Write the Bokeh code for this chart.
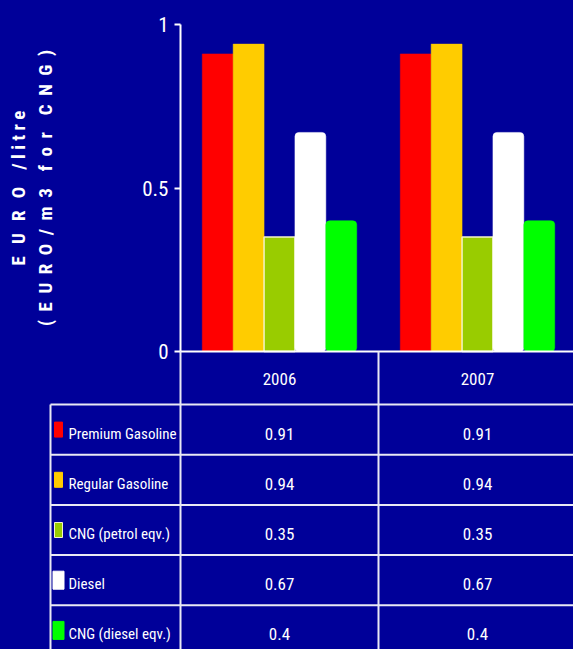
from bokeh.plotting import figure
from bokeh.models import (ColumnDataSource, Range1d, FixedTicker, LinearAxis,
                          GlobalInlineStyleSheet)
from bokeh.transform import dodge
from bokeh.core.properties import value
from bokeh.embed import file_html
from bokeh.resources import INLINE

# ---------------- data ----------------
years = ["2006", "2007"]
fuels = ["Premium Gasoline", "Regular Gasoline", "CNG (petrol eqv.)", "Diesel", "CNG (diesel eqv.)"]
premium_gasoline = [0.91, 0.91]
regular_gasoline = [0.94, 0.94]
cng_petrol_eqv = [0.35, 0.35]
diesel = [0.67, 0.67]
cng_diesel_eqv = [0.4, 0.4]
y_ticks = [0, 0.5, 1]
y_tick_labels = ["0", "0.5", "1"]
sp = "\u2002"
thin = "\u2009"
quarter = "\u2005"
y_label_line1 = (sp + thin).join("EURO") + sp + sp + "/" + quarter + quarter.join("litre")
y_label_line2 = sp.join("(EURO/m") + sp + "3" + sp + sp + sp.join("for") + sp + sp + sp.join("CNG)")

series = [premium_gasoline, regular_gasoline, cng_petrol_eqv, diesel, cng_diesel_eqv]

# ---------------- style / geometry ----------------
BG = "#000099"
colors = ["#FF0000", "#FFCC00", "#99CC00", "#FFFFFF", "#00FF00"]
outline = [None, None, "#F4F4C8", None, None]
radius = [0, 0, 0, 4, 4]
FONT = "Roboto Condensed, Roboto"
LINE_C = "#E8E8F4"

W, H = 573, 649
AXIS_X = 180          # pixel position of the value axis
COL_PX = 198          # pixel width of one year column
ZERO_PX = 351         # pixel position of value 0
PX_PER_Y = 327        # pixels per unit value
TABLE_TOP = 404       # pixel position of the table's top rule
ROW_PX = 50.2         # table row height
LEFT_RULE = 50        # pixel position of the table's left rule
bar_w = 0.156

x_range = Range1d(-AXIS_X / COL_PX, (W - AXIS_X) / COL_PX)
y_range = Range1d(-(H - ZERO_PX) / PX_PER_Y, ZERO_PX / PX_PER_Y)

p = figure(width=W, height=H, x_range=x_range, y_range=y_range,
           x_axis_location=None, y_axis_location=None,
           output_backend="svg", toolbar_location=None, min_border=0,
           background_fill_color=BG, border_fill_color=BG, outline_line_color=None)
p.grid.visible = False
p.extra_y_ranges = {"table": Range1d(-(H - TABLE_TOP) / ROW_PX, TABLE_TOP / ROW_PX)}

ya = LinearAxis(fixed_location=0, bounds=(0, 1), ticker=FixedTicker(ticks=y_ticks))
ya.major_label_overrides = {t: l for t, l in zip(y_ticks, y_tick_labels)}
ya.axis_line_color = "white"
ya.axis_line_width = 2
ya.major_tick_line_color = "white"
ya.major_tick_line_width = 2
ya.major_tick_out = 6
ya.major_tick_in = 0
ya.minor_tick_line_color = None
ya.major_label_text_color = "white"
ya.major_label_text_font = FONT
ya.major_label_text_font_size = "21px"
ya.major_label_standoff = 6
ya.axis_label = y_label_line1 + "\n" + y_label_line2
ya.axis_label_text_color = "white"
ya.axis_label_text_font = FONT
ya.axis_label_text_font_style = "bold"
ya.axis_label_text_font_size = "19px"
ya.axis_label_standoff = 82
p.add_layout(ya, "left")

xc = [j + 0.5 for j in range(len(years))]
src = ColumnDataSource(dict(year=years, xc=xc, **{f"s{i}": s for i, s in enumerate(series)}))
for i, c in enumerate(colors):
    off = (i - (len(colors) - 1) / 2) * bar_w
    p.vbar(x=dodge("xc", off), top=f"s{i}", bottom=0, width=bar_w, source=src,
           fill_color=c, line_color=outline[i] or c,
           line_width=1.5 if outline[i] else 0.5, border_radius=radius[i])

x_end = (W - AXIS_X) / COL_PX
row_top_y = -(TABLE_TOP - ZERO_PX) / PX_PER_Y
# zero line and year-row separators
p.segment(x0=[0], y0=[0], x1=[x_end], y1=[0], line_color="white", line_width=2)
p.segment(x0=[0, 1], y0=[0, 0], x1=[0, 1], y1=[row_top_y, row_top_y],
          line_color=LINE_C, line_width=2)
p.text(x="xc", y=0, text="year", source=src, y_offset=27,
       text_align="center", text_baseline="middle", text_color="white",
       text_font=value(FONT), text_font_size="17px")

# ---------------- table ----------------
x_left = -(AXIS_X - LEFT_RULE) / COL_PX
n = len(fuels)
p.segment(x0=[x_left] * (n + 1), y0=[-i for i in range(n + 1)],
          x1=[x_end] * (n + 1), y1=[-i for i in range(n + 1)],
          line_color=LINE_C, line_width=2, y_range_name="table")
vx = [x_left] + list(range(len(years)))
p.segment(x0=vx, y0=[0] * len(vx), x1=vx, y1=[-n] * len(vx),
          line_color=LINE_C, line_width=2, y_range_name="table")

row_y = [-i - 0.5 for i in range(n)]
lsrc = ColumnDataSource(dict(y=row_y, fuel=fuels, color=colors,
                             w=[8, 8, 8, 11, 11], h=[15, 15, 15, 18, 18],
                             lc=[o or c for o, c in zip(outline, colors)]))
p.rect(x=x_left + 8 / COL_PX, y="y", width="w", height="h", width_units="screen",
       height_units="screen", fill_color="color", line_color="lc", line_width=1,
       source=lsrc, y_range_name="table")
p.text(x=x_left + 18 / COL_PX, y="y", text="fuel", source=lsrc, y_offset=4,
       text_align="left", text_baseline="middle", text_color="white",
       text_font=value(FONT), text_font_size="15px", y_range_name="table")

vx_list, vy_list, vt_list = [], [], []
for i, s in enumerate(series):
    for j, v in enumerate(s):
        vx_list.append(xc[j])
        vy_list.append(row_y[i])
        vt_list.append(str(v))
p.text(x=vx_list, y=vy_list, text=vt_list, y_offset=4,
       text_align="center", text_baseline="middle", text_color="white",
       text_font=value(FONT), text_font_size="17px", y_range_name="table")

p.stylesheets = [GlobalInlineStyleSheet(css="html, body { margin: 0; padding: 0; background: #000099; overflow: hidden; }")]

open("out.html", "w").write(file_html(p, INLINE))
